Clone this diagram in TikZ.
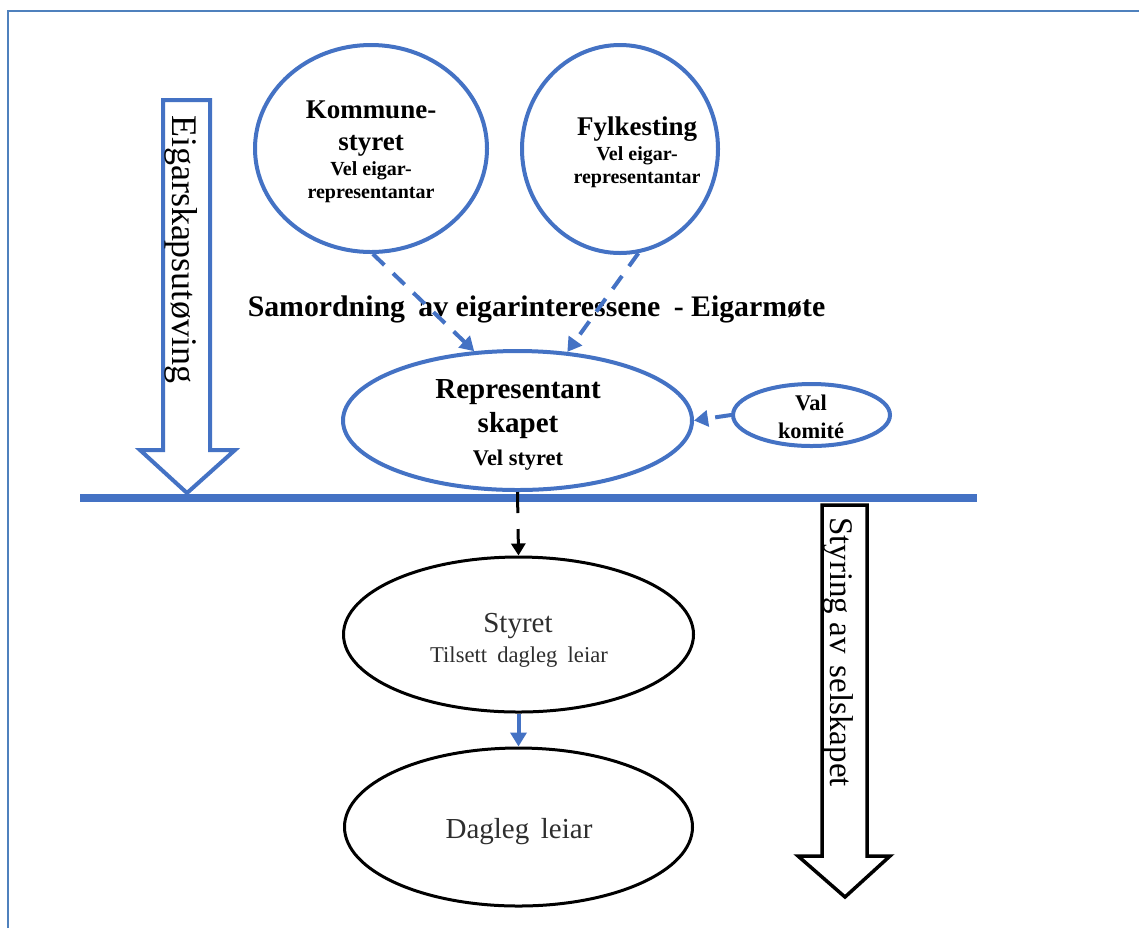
\documentclass[tikz,border=0pt]{standalone}
\usepackage{fontspec}
\setmainfont{Liberation Serif}
\usetikzlibrary{arrows.meta,shapes.geometric}
\definecolor{accent}{HTML}{4472C4}
\definecolor{framec}{HTML}{4F81BD}
\definecolor{softblack}{HTML}{2E2E2E}

\begin{document}
\begin{tikzpicture}[x=0.5pt,y=-0.5pt,
  blueoval/.style={ellipse, draw=accent, line width=2pt, inner sep=0pt, fill=white},
  blackoval/.style={ellipse, draw=black, line width=1.5pt, inner sep=0pt, fill=white},
  lbl/.style={anchor=base, inner sep=0pt},
  headb/.style={font=\fontsize{13.5}{16}\selectfont\bfseries},
  smallb/.style={font=\fontsize{10}{12}\selectfont\bfseries},
  repb/.style={font=\fontsize{14.5}{17}\selectfont\bfseries},
  midb/.style={font=\fontsize{11.2}{13}\selectfont\bfseries},
  plainbig/.style={font=\fontsize{14.5}{17}\selectfont, text=softblack},
  plainmid/.style={font=\fontsize{11.3}{13}\selectfont, text=softblack},
  bluedash/.style={draw=accent, line width=2pt, dash pattern=on 8pt off 6pt,
    -{Triangle[length=7pt,width=8pt]}},
  blackdash/.style={draw=black, line width=1.5pt, dash pattern=on 10.5pt off 8pt,
    -{Triangle[length=6pt,width=7pt]}},
  bluesolid/.style={draw=accent, line width=2pt, -{Triangle[length=7pt,width=8pt]}},
  sidetext/.style={rotate=-90, inner sep=0pt}
]
\useasboundingbox (0,0) rectangle (1139,928);

% outer frame
\draw[framec, line width=1.25pt] (8,928) -- (8,11) -- (1139,11);

% block arrow: ownership
\draw[accent, line width=2pt, fill=white, line join=miter]
  (163,100) -- (210,100) -- (210,450) -- (235,450) -- (187,493) -- (140,450) -- (163,450) -- cycle;
\node[sidetext, font=\fontsize{18}{21}\selectfont] (own) at (181.5,249) {Eigarskapsutøving};

% block arrow: governance
\draw[black, line width=1.75pt, fill=white, line join=miter]
  (822,505) -- (867,505) -- (867,856) -- (890,856) -- (845,897) -- (798,856) -- (822,856) -- cycle;
\node[sidetext, font=\fontsize{16.5}{19}\selectfont] (gov) at (838,652) {Styring av\hspace{0.12em} selskapet};

% dividing line
\draw[accent, line width=4pt] (80,498) -- (977,498);

% owners
\node[blueoval, minimum width=116pt, minimum height=103.5pt] (kom) at (371,148.5) {};
\node[lbl, headb] (kom1) at (371,118) {Kommune-};
\node[lbl, headb] (kom2) at (371,150) {styret};
\node[lbl, smallb] (kom3) at (371,175) {Vel eigar-};
\node[lbl, smallb] (kom4) at (371,198) {representantar};

\node[blueoval, minimum width=98pt, minimum height=104pt] (fyl) at (620,149) {};
\node[lbl, headb] (fyl1) at (637,135) {Fylkesting};
\node[lbl, smallb] (fyl2) at (637,160) {Vel eigar-};
\node[lbl, smallb] (fyl3) at (637,183) {representantar};

% representative body
\node[blueoval, minimum width=174.5pt, minimum height=69.5pt] (rep) at (517.5,420.5) {};
\node[lbl, repb] (rep1) at (518,398) {Representant};
\node[lbl, repb] (rep2) at (518,432) {skapet};
\node[lbl, midb] (rep3) at (518,465) {Vel styret};

\node[blueoval, minimum width=78.5pt, minimum height=31pt] (val) at (811.5,415) {};
\node[lbl, midb] (val1) at (811,410) {Val};
\node[lbl, midb] (val2) at (811,438) {komité};

% coordination label
\node[lbl, font=\fontsize{14.9}{17}\selectfont\bfseries] (sam) at (536.5,316)
  {Samordning\hspace{0.2em} av eigarinteressene\hspace{0.2em} - Eigarmøte};

% company
\node[blackoval, minimum width=175pt, minimum height=77.5pt] (sty) at (518.5,634.5) {};
\node[lbl, plainbig] (sty1) at (518,632) {Styret};
\node[lbl, plainmid] (sty2) at (519,662) {Tilsett\hspace{0.2em} dagleg\hspace{0.2em} leiar};

\node[blackoval, minimum width=174pt, minimum height=79pt] (dag) at (518.5,827) {};
\node[lbl, plainbig] (dag1) at (519,838) {Dagleg\hspace{0.15em} leiar};

% connectors
\draw[bluedash] (kom.-89) -- (rep.122.5);
\draw[bluedash] (fyl.-80) -- (rep.54);
\draw[bluedash] (val.west) -- (rep.east);
\draw[blackdash] (rep.south) -- (sty.north);
\draw[bluesolid] (sty.south) -- (dag.north);
\end{tikzpicture}
\end{document}
